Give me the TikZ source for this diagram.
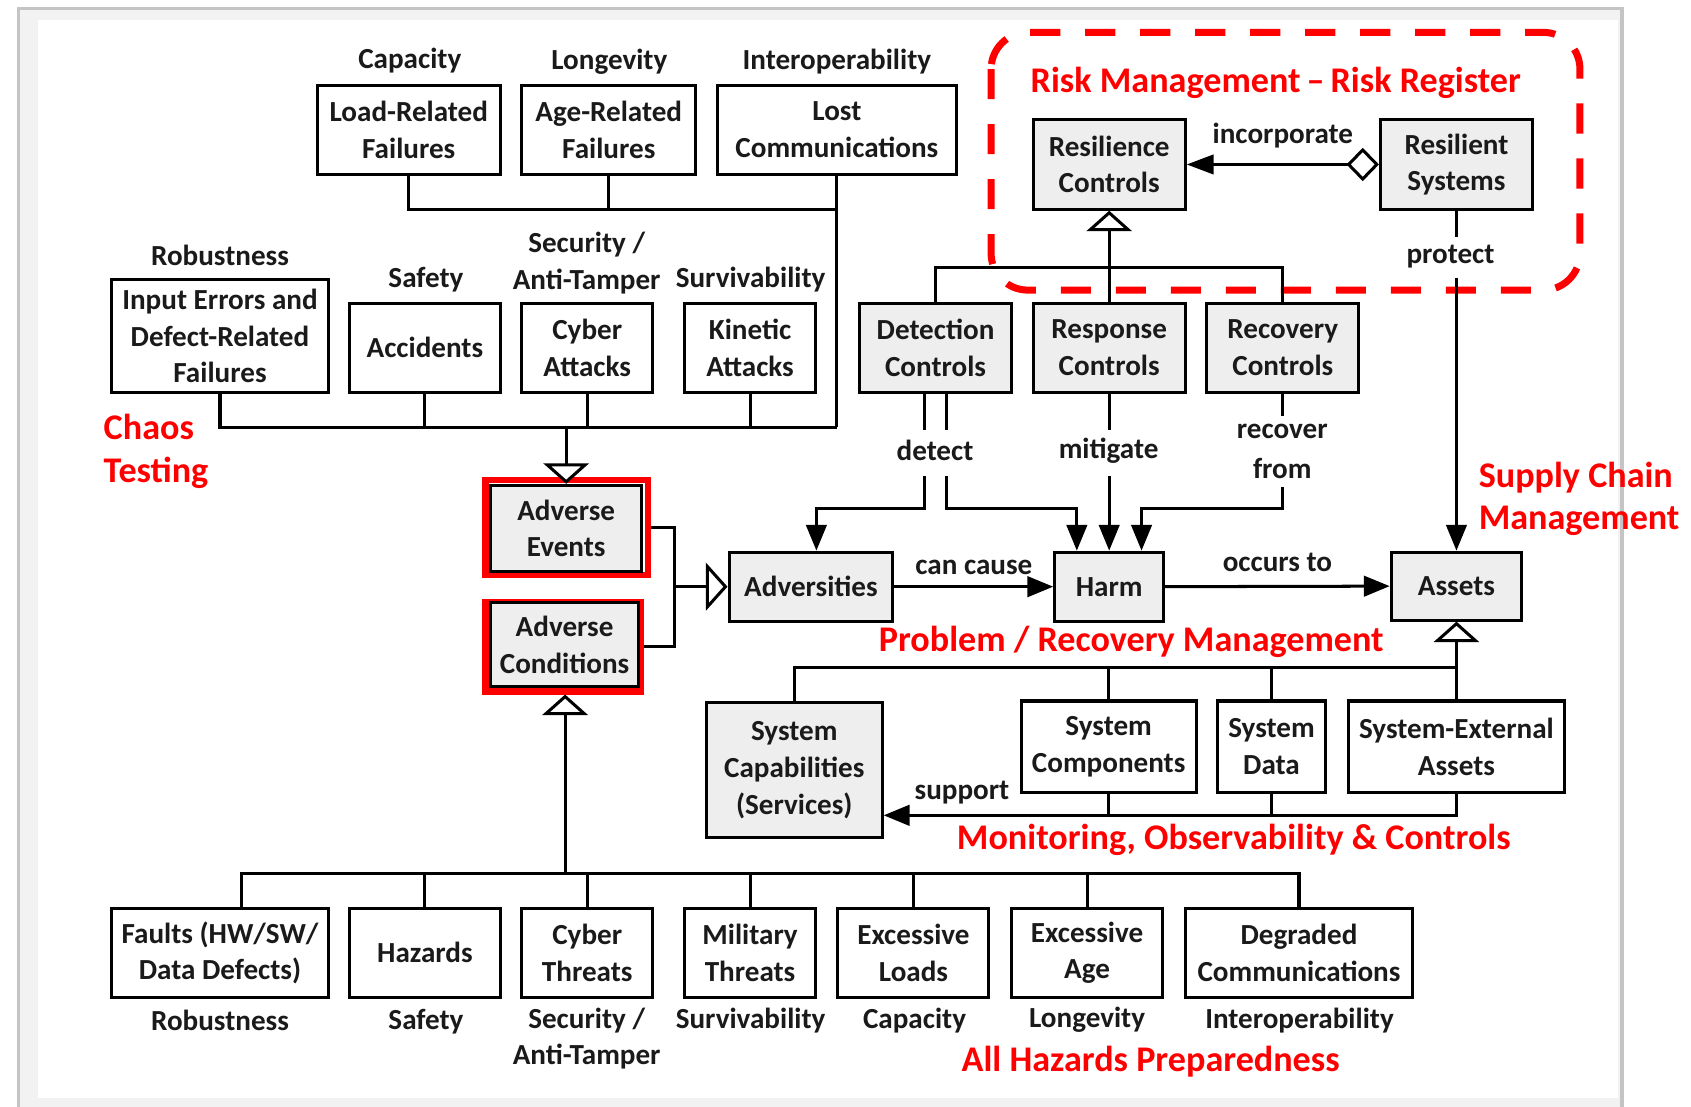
\documentclass[tikz,border=0pt]{standalone}
\usepackage{fontspec}
\setmainfont{Carlito}
\usetikzlibrary{arrows.meta,calc}
\definecolor{boxgray}{HTML}{EEEEEE}
\definecolor{framegray}{HTML}{C4C4C4}
\definecolor{bandgray}{HTML}{F2F2F2}
\definecolor{redtxt}{HTML}{FF0000}
\definecolor{inkc}{HTML}{1A1A1A}
\newcommand\blkfont{\fontsize{27}{34}\selectfont\bfseries}
\newcommand\redfont{\fontsize{33.5}{41}\selectfont\bfseries}
\begin{document}
\begin{tikzpicture}[x=1pt,y=-1pt,
 box/.style={draw=black, line width=2.8pt, align=center, inner sep=0pt, font=\blkfont, text=inkc},
 wbox/.style={box, fill=white},
 gbox/.style={box, fill=boxgray},
 ln/.style={line width=2.8pt},
 lbl/.style={font=\blkfont, text=inkc, inner sep=0pt, align=center},
 rlbl/.style={font=\redfont, text=redtxt, inner sep=0pt, align=center},
 rlbll/.style={font=\redfont, text=redtxt, inner sep=0pt, align=left, anchor=west},
 genarr/.style={-{Triangle[open, width=42pt, length=19pt, fill=white]}},
 sarr/.style={-{Triangle[width=19pt, length=24pt]}},
 redframe/.style={draw=redtxt, line width=6pt, inner sep=0pt}
]
\useasboundingbox (0,0) rectangle (1568,1026);
\fill[white] (0,0) rectangle (1568,1026);
% window frame
\fill[bandgray] (17,8) rectangle (1504,1030);
\fill[white] (35,19) rectangle (1500,1018);
\draw[framegray, line width=3pt] (17,1030) -- (17,8) -- (1504,8) -- (1504,1030);

% risk register dashed region
\draw[redtxt, line width=6.5pt, dash pattern=on 28pt off 23pt, rounded corners=34pt]
  (919,30) rectangle (1465,269);

% top row
\node[wbox, minimum width=170, minimum height=83] (load) at (379,120.5) {Load-Related\\Failures};
\node[wbox, minimum width=161, minimum height=83] (age) at (564.5,120.5) {Age-Related\\Failures};
\node[wbox, minimum width=222, minimum height=83] (lost) at (776,120.5) {Lost\\Communications};
\node[lbl] (tCap) at (380,56) {Capacity};
\node[lbl] (tLon) at (565,57) {Longevity};
\node[lbl] (tInt) at (776,57) {Interoperability};

% second row
\node[wbox, minimum width=202, minimum height=105] (input) at (204,311.5) {Input Errors and\\Defect-Related\\Failures};
\node[wbox, minimum width=140, minimum height=83] (acc) at (394,322.5) {Accidents};
\node[wbox, minimum width=121, minimum height=83] (cyberatt) at (544.5,322.5) {Cyber\\Attacks};
\node[wbox, minimum width=121, minimum height=83] (kinetic) at (695.5,322.5) {Kinetic\\Attacks};
\node[lbl] (tRob) at (204,237) {Robustness};
\node[lbl] (tSaf) at (395,259) {Safety};
\node[lbl] (tSec) at (544,227) {Security /};
\node[lbl] (tAnti) at (544,261) {Anti-Tamper};
\node[lbl] (tSur) at (696,259) {Survivability};

\node[rlbll] (chaos) at (96,396) {Chaos};
\node[rlbll] (testing) at (96,438) {Testing};

% adverse events / conditions
\node[redframe, minimum width=151, minimum height=88] (advevR) at (525.5,489) {};
\node[redframe, minimum width=144, minimum height=83] (advcondR) at (522,599.5) {};
\node[gbox, minimum width=140, minimum height=80] (advev) at (525,490) {Adverse\\Events};
\node[gbox, minimum width=137, minimum height=78] (advcond) at (523.5,598) {Adverse\\Conditions};

% controls
\node[gbox, minimum width=141, minimum height=83] (rescon) at (1028.5,152.5) {Resilience\\Controls};
\node[gbox, minimum width=141, minimum height=83] (ressys) at (1350.5,152.5) {Resilient\\Systems};
\node[gbox, minimum width=141, minimum height=83] (detect) at (867.5,322.5) {Detection\\Controls};
\node[gbox, minimum width=141, minimum height=83] (respon) at (1028.5,322.5) {Response\\Controls};
\node[gbox, minimum width=141, minimum height=83] (recov) at (1189.5,322.5) {Recovery\\Controls};
\node[rlbl] (riskreg) at (1183,77) {Risk Management\,–\,Risk Register};

% middle row
\node[gbox, minimum width=152, minimum height=64] (adversities) at (752,544) {Adversities};
\node[gbox, minimum width=101, minimum height=64] (harm) at (1028.5,544) {Harm};
\node[gbox, minimum width=121, minimum height=63] (assets) at (1350.5,543.5) {Assets};

% system row
\node[gbox, minimum width=163, minimum height=126] (syscap) at (736.5,714) {System\\Capabilities\\(Services)};
\node[wbox, minimum width=162, minimum height=85] (syscomp) at (1028,692.5) {System\\Components};
\node[wbox, minimum width=100, minimum height=85] (sysdata) at (1179,692.5) {System\\Data};
\node[wbox, minimum width=201, minimum height=85] (sysext) at (1350.5,692.5) {System-External\\Assets};

% bottom row
\node[wbox, minimum width=202, minimum height=83] (faults) at (204,883.5) {Faults (HW/SW/\\Data Defects)};
\node[wbox, minimum width=140, minimum height=83] (hazards) at (394,883.5) {Hazards};
\node[wbox, minimum width=121, minimum height=83] (cyberthr) at (544.5,883.5) {Cyber\\Threats};
\node[wbox, minimum width=121, minimum height=83] (military) at (695.5,883.5) {Military\\Threats};
\node[wbox, minimum width=140, minimum height=83] (exload) at (847,883.5) {Excessive\\Loads};
\node[wbox, minimum width=140, minimum height=83] (exage) at (1008,883.5) {Excessive\\Age};
\node[wbox, minimum width=211, minimum height=83] (degraded) at (1204.5,883.5) {Degraded\\Communications};
\node[lbl] (bRob) at (204,946) {Robustness};
\node[lbl] (bSaf) at (395,947) {Safety};
\node[lbl] (bSec) at (544,946) {Security /};
\node[lbl] (bAnti) at (544,980) {Anti-Tamper};
\node[lbl] (bSur) at (696,946) {Survivability};
\node[lbl] (bCap) at (848,946) {Capacity};
\node[lbl] (bLon) at (1008,946) {Longevity};
\node[lbl] (bInt) at (1205,946) {Interoperability};

% red labels
\node[rlbll] (supply) at (1371,443) {Supply Chain};
\node[rlbll] (mgmt) at (1371,483) {Management};
\node[rlbl] (problem) at (1049,595) {Problem / Recovery Management};
\node[rlbl] (monitor) at (1144,779) {Monitoring, Observability \& Controls};
\node[rlbl] (allhaz) at (1067,984) {All Hazards Preparedness};

% ---- connectors: top hierarchy
\coordinate (topbus) at (776,194);
\coordinate (midbus) at (776,396);
\draw[ln] (load.south) |- (topbus);
\draw[ln] (age.south) -- (age.south |- topbus);
\draw[ln] (lost.south) -- (midbus);
\draw[ln] (input.south) |- (midbus);
\draw[ln] (acc.south) -- (acc.south |- midbus);
\draw[ln] (cyberatt.south) -- (cyberatt.south |- midbus);
\draw[ln] (kinetic.south) -- (kinetic.south |- midbus);
\draw[ln, genarr] (advev.north |- midbus) -- (advev.north);

% ---- bottom hierarchy
\coordinate (botbus) at (524,810);
\draw[ln] ($(faults.north)+(20,0)$) |- (botbus) -| (degraded.north);
\draw[ln] (hazards.north) -- (hazards.north |- botbus);
\draw[ln] (cyberthr.north) -- (cyberthr.north |- botbus);
\draw[ln] (military.north) -- (military.north |- botbus);
\draw[ln] (exload.north) -- (exload.north |- botbus);
\draw[ln] (exage.north) -- (exage.north |- botbus);
\draw[ln, genarr] (botbus) -- (advcondR.south -| botbus);

% ---- adverse -> adversities
\coordinate (advjoin) at (625,544);
\draw[ln] (advevR.east) -| (advjoin);
\draw[ln] (advcondR.east) -| (advjoin);
\draw[ln, -{Triangle[open, width=44pt, length=20pt, fill=white]}] (advjoin) -- (adversities.west);

% ---- main chain
\draw[ln, sarr] (adversities.east) -- (harm.west) node[lbl, midway, above=10pt] (lcan) {can cause};
\draw[ln, sarr] (harm.east) -- (assets.west) node[lbl, midway, above=12pt] (locc) {occurs to};

% ---- risk register
\draw[ln, {Diamond[open, fill=white, length=30pt, width=31pt]}-{Triangle[width=18pt, length=25pt]}]
  (ressys.west) -- (rescon.east) node[lbl, midway, above=14pt] (linc) {incorporate};
\coordinate (ctrlbus) at (1028.5,248);
\draw[ln, genarr] (ctrlbus) -- (rescon.south);
\draw[ln] (detect.north) |- (recov.north |- ctrlbus) -- (recov.north);
\draw[ln] (respon.north) -- (ctrlbus);

% ---- control relations
\draw[ln] ($(detect.south)+(-10,0)$) -- ++(0,33);
\draw[ln] ($(detect.south)+(10,0)$) -- ++(0,33);
\node[lbl] (ldet) at (867,418) {detect};
\draw[ln, sarr] ($(detect.south)+(-10,76)$) -- ($(detect.south)+(-10,106)$) -| ($(adversities.north)+(5,0)$);
\draw[ln, sarr] ($(detect.south)+(10,76)$) -- ($(detect.south)+(10,106)$) -| ($(harm.north)+(-30,0)$);
\draw[ln] (respon.south) -- ++(0,33);
\node[lbl] (lmit) at (1028,418) {mitigate};
\draw[ln, sarr] ($(respon.south)+(0,76)$) -- (harm.north);
\draw[ln] (recov.south) -- ++(0,20);
\node[lbl] (lrec) at (1189,400) {recover};
\node[lbl] (lfrom) at (1189,434) {from};
\draw[ln, sarr] ($(recov.south)+(0,86)$) -- ($(recov.south)+(0,106)$) -| ($(harm.north)+(30,0)$);
\draw[ln] (ressys.south) -- ++(0,24);
\node[lbl] (lprot) at (1345,238) {protect};
\draw[ln, sarr] ($(ressys.south)+(0,62)$) -- (assets.north);

% ---- assets hierarchy
\coordinate (assetbus) at (1350.5,619);
\draw[ln, genarr] (assetbus) -- (assets.south);
\draw[ln] (syscap.north) |- (assetbus) -- (sysext.north);
\draw[ln] (syscomp.north) -- (syscomp.north |- assetbus);
\draw[ln] (sysdata.north) -- (sysdata.north |- assetbus);

% ---- support
\coordinate (supbus) at (1350.5,756);
\draw[ln] (syscomp.south) -- (syscomp.south |- supbus);
\draw[ln] (sysdata.south) -- (sysdata.south |- supbus);
\draw[ln, sarr] (sysext.south) |- (syscap.east |- supbus);
\node[lbl] (lsup) at (892,735) {support};
\end{tikzpicture}
\end{document}
